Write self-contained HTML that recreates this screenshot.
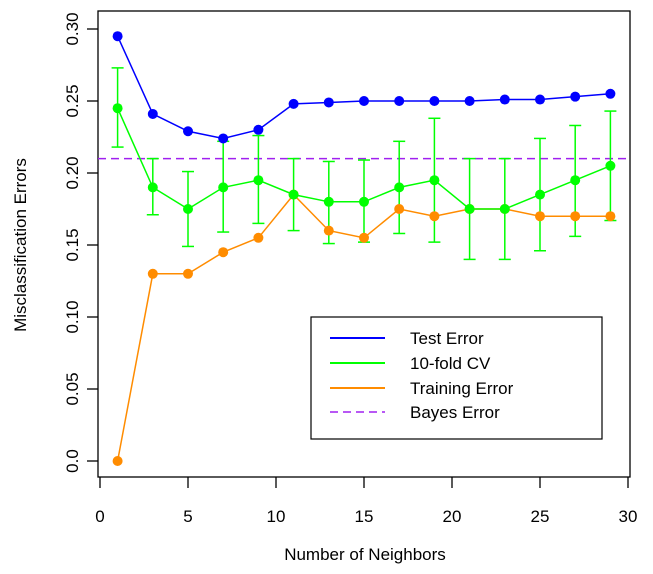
<!DOCTYPE html>
<html><head><meta charset="utf-8"><style>
body{margin:0;background:#fff}
svg text{font-family:"Liberation Sans",Arial,sans-serif;fill:#000}
</style></head><body>
<svg id="s" width="653" height="569" xmlns="http://www.w3.org/2000/svg">
<rect x="98" y="11" width="532" height="466" fill="none" stroke="#000" stroke-width="1.3"/>
<g stroke="#000" stroke-width="1.3">
<line x1="100" y1="477" x2="100" y2="488"/><line x1="188" y1="477" x2="188" y2="488"/><line x1="276" y1="477" x2="276" y2="488"/><line x1="364" y1="477" x2="364" y2="488"/><line x1="452" y1="477" x2="452" y2="488"/><line x1="540" y1="477" x2="540" y2="488"/><line x1="628" y1="477" x2="628" y2="488"/>
<line x1="87" y1="461" x2="98" y2="461"/><line x1="87" y1="389" x2="98" y2="389"/><line x1="87" y1="317" x2="98" y2="317"/><line x1="87" y1="245" x2="98" y2="245"/><line x1="87" y1="173" x2="98" y2="173"/><line x1="87" y1="101" x2="98" y2="101"/><line x1="87" y1="29" x2="98" y2="29"/>
</g>
<g font-size="17" text-anchor="middle">
<text x="100" y="522">0</text><text x="188" y="522">5</text><text x="276" y="522">10</text><text x="364" y="522">15</text><text x="452" y="522">20</text><text x="540" y="522">25</text><text x="628" y="522">30</text>
<text transform="translate(78,461) rotate(-90)">0.0</text>
<text transform="translate(78,389) rotate(-90)">0.05</text>
<text transform="translate(78,317) rotate(-90)">0.10</text>
<text transform="translate(78,245) rotate(-90)">0.15</text>
<text transform="translate(78,173) rotate(-90)">0.20</text>
<text transform="translate(78,101) rotate(-90)">0.25</text>
<text transform="translate(78,29) rotate(-90)">0.30</text>
<text x="365" y="560">Number of Neighbors</text>
<text transform="translate(26,245) rotate(-90)">Misclassification Errors</text>
</g>
<line x1="98" y1="158.6" x2="630" y2="158.6" stroke="#a020f0" stroke-width="1.5" stroke-dasharray="8,5"/>
<g id="data"></g>
<rect x="311" y="317" width="291" height="122" fill="#fff" stroke="#000" stroke-width="1.2"/>
<line x1="330" y1="338" x2="385" y2="338" stroke="#0000ff" stroke-width="2"/>
<line x1="330" y1="363" x2="385" y2="363" stroke="#00ff00" stroke-width="2"/>
<line x1="330" y1="388" x2="385" y2="388" stroke="#ff8c00" stroke-width="2"/>
<line x1="330" y1="412" x2="385" y2="412" stroke="#a020f0" stroke-width="1.5" stroke-dasharray="8,5"/>
<g font-size="17"><text x="410" y="344">Test Error</text><text x="410" y="369">10-fold CV</text><text x="410" y="394">Training Error</text><text x="410" y="418">Bayes Error</text></g>
</svg>
<script>
var X=k=>100+17.6*k, Y=v=>461-1440*v;
var ks=[1,3,5,7,9,11,13,15,17,19,21,23,25,27,29];
var te=[.295,.241,.229,.224,.230,.248,.249,.250,.250,.250,.250,.251,.251,.253,.255];
var cv=[.245,.19,.175,.19,.195,.185,.18,.18,.19,.195,.175,.175,.185,.195,.205];
var hi=[.273,.21,.201,.222,.226,.21,.208,.209,.222,.238,.21,.21,.224,.233,.243];
var lo=[.218,.171,.149,.159,.165,.16,.151,.152,.158,.152,.14,.14,.146,.156,.167];
var tr=[0,.13,.13,.145,.155,.185,.16,.155,.175,.17,.175,.175,.17,.17,.17];
var h='';
ks.forEach((k,i)=>{var x=X(k);h+=`<g stroke="#00ff00" stroke-width="1.5"><line x1="${x}" y1="${Y(hi[i])}" x2="${x}" y2="${Y(lo[i])}"/><line x1="${x-6}" y1="${Y(hi[i])}" x2="${x+6}" y2="${Y(hi[i])}"/><line x1="${x-6}" y1="${Y(lo[i])}" x2="${x+6}" y2="${Y(lo[i])}"/></g>`;});
function ser(d,c){var p=ks.map((k,i)=>X(k)+','+Y(d[i])).join(' ');var s=`<polyline points="${p}" fill="none" stroke="${c}" stroke-width="1.5"/>`;ks.forEach((k,i)=>{s+=`<circle cx="${X(k)}" cy="${Y(d[i])}" r="5" fill="${c}"/>`});return s;}
h+=ser(tr,'#ff8c00')+ser(cv,'#00ff00')+ser(te,'#0000ff');
document.getElementById('data').innerHTML=h;
</script>
</body></html>
